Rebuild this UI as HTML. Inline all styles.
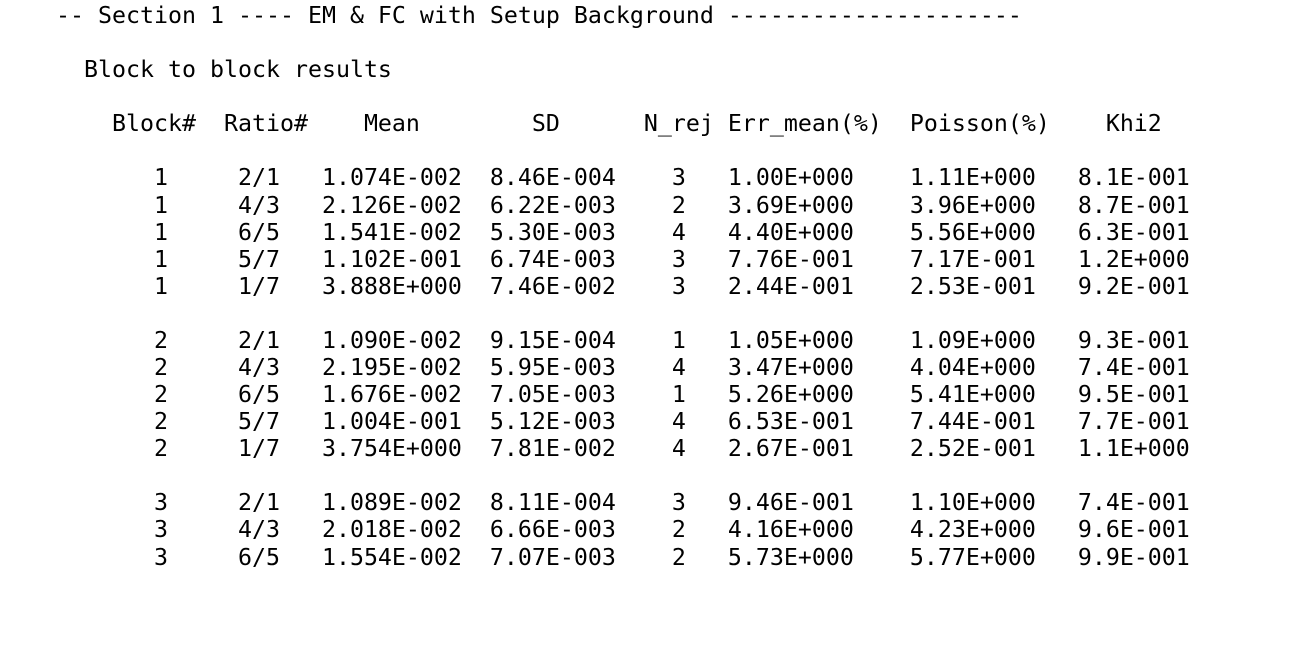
<!DOCTYPE html>
<html><head><meta charset="utf-8">
<style>
html,body{margin:0;padding:0;background:#fff;width:1297px;height:646px;overflow:hidden}
pre{margin:0;padding:2px 0 0 0;font-family:"DejaVu Sans Mono","Liberation Mono",monospace;font-size:23.25px;line-height:27.08px;color:#000;white-space:pre}
</style></head><body>
<pre><span>    -- Section 1 ---- EM &amp; FC with Setup Background ---------------------</span>

<span>      Block to block results</span>

<span>        Block#  Ratio#    Mean        SD      N_rej Err_mean(%)  Poisson(%)    Khi2</span>

<span>           1     2/1   1.074E-002  8.46E-004    3   1.00E+000    1.11E+000   8.1E-001</span>
<span>           1     4/3   2.126E-002  6.22E-003    2   3.69E+000    3.96E+000   8.7E-001</span>
<span>           1     6/5   1.541E-002  5.30E-003    4   4.40E+000    5.56E+000   6.3E-001</span>
<span>           1     5/7   1.102E-001  6.74E-003    3   7.76E-001    7.17E-001   1.2E+000</span>
<span>           1     1/7   3.888E+000  7.46E-002    3   2.44E-001    2.53E-001   9.2E-001</span>

<span>           2     2/1   1.090E-002  9.15E-004    1   1.05E+000    1.09E+000   9.3E-001</span>
<span>           2     4/3   2.195E-002  5.95E-003    4   3.47E+000    4.04E+000   7.4E-001</span>
<span>           2     6/5   1.676E-002  7.05E-003    1   5.26E+000    5.41E+000   9.5E-001</span>
<span>           2     5/7   1.004E-001  5.12E-003    4   6.53E-001    7.44E-001   7.7E-001</span>
<span>           2     1/7   3.754E+000  7.81E-002    4   2.67E-001    2.52E-001   1.1E+000</span>

<span>           3     2/1   1.089E-002  8.11E-004    3   9.46E-001    1.10E+000   7.4E-001</span>
<span>           3     4/3   2.018E-002  6.66E-003    2   4.16E+000    4.23E+000   9.6E-001</span>
<span>           3     6/5   1.554E-002  7.07E-003    2   5.73E+000    5.77E+000   9.9E-001</span>
</pre>
</body></html>
